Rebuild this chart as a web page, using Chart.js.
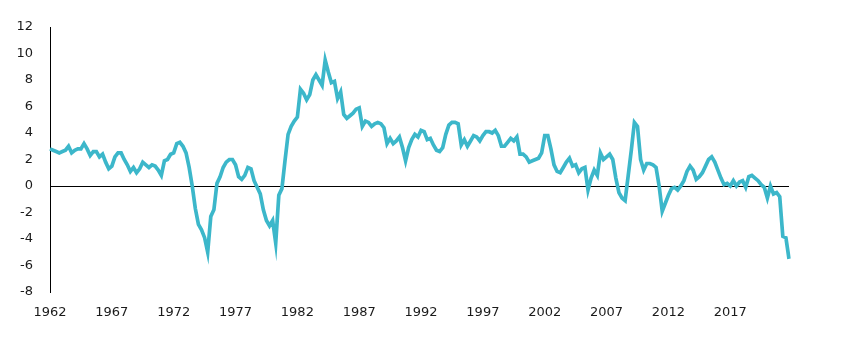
<!DOCTYPE html>
<html>
<head>
<meta charset="utf-8">
<script src="https://cdn.jsdelivr.net/npm/chart.js@4"></script>
<style>
    html, body { margin: 0; padding: 0; background: #fff; }
    #wrap { width: 850px; height: 360px; }
</style>
</head>
<body>
<div id="wrap"><canvas id="chart" width="850" height="360"></canvas></div>
<script>
// quarterly series, 1962Q1 .. 2021Q4
const startYear = 1962;
const tickYears = ['1962', '1967', '1972', '1977', '1982', '1987', '1992', '1997', '2002', '2007', '2012', '2017'];
const values = [
    2.8, 2.7, 2.6, 2.5, 2.6, 2.7, 3.0, 2.5, 2.7, 2.8,
    2.8, 3.2, 2.8, 2.3, 2.6, 2.6, 2.2, 2.4, 1.8, 1.3,
    1.5, 2.2, 2.5, 2.5, 2.0, 1.6, 1.1, 1.4, 1.0, 1.3,
    1.8, 1.6, 1.4, 1.6, 1.5, 1.2, 0.8, 1.9, 2.0, 2.4,
    2.5, 3.2, 3.3, 3.0, 2.5, 1.4, 0.0, -1.7, -2.9, -3.3,
    -3.9, -5.0, -2.3, -1.8, 0.2, 0.7, 1.4, 1.8, 2.0, 2.0,
    1.6, 0.7, 0.5, 0.8, 1.4, 1.3, 0.4, -0.1, -0.6, -1.8,
    -2.6, -3.0, -2.6, -4.3, -0.7, -0.2, 1.9, 3.9, 4.5, 4.9,
    5.2, 7.3, 7.0, 6.5, 6.9, 8.0, 8.4, 8.0, 7.6, 9.5,
    8.6, 7.8, 7.9, 6.6, 7.1, 5.4, 5.1, 5.3, 5.5, 5.8,
    5.9, 4.5, 4.9, 4.8, 4.5, 4.7, 4.8, 4.7, 4.4, 3.2,
    3.6, 3.2, 3.4, 3.7, 2.9, 1.9, 2.9, 3.5, 3.9, 3.7,
    4.2, 4.1, 3.5, 3.6, 3.1, 2.7, 2.6, 2.9, 3.9, 4.6,
    4.8, 4.8, 4.7, 3.1, 3.5, 3.0, 3.4, 3.8, 3.7, 3.4,
    3.8, 4.1, 4.1, 4.0, 4.2, 3.8, 3.0, 3.0, 3.3, 3.6,
    3.4, 3.7, 2.4, 2.4, 2.2, 1.8, 1.9, 2.0, 2.1, 2.5,
    3.8, 3.8, 2.8, 1.6, 1.1, 1.0, 1.4, 1.8, 2.1, 1.5,
    1.6, 1.0, 1.3, 1.4, -0.3, 0.6, 1.2, 0.8, 2.5, 2.0,
    2.2, 2.4, 2.0, 0.6, -0.5, -0.9, -1.1, 0.8, 2.7, 4.8,
    4.5, 2.0, 1.2, 1.7, 1.7, 1.6, 1.4, 0.0, -1.9, -1.3,
    -0.7, -0.2, -0.1, -0.3, 0.0, 0.4, 1.1, 1.5, 1.2, 0.5,
    0.7, 1.0, 1.5, 2.0, 2.2, 1.8, 1.2, 0.6, 0.1, 0.2,
    0.0, 0.4, 0.0, 0.3, 0.4, -0.1, 0.7, 0.8, 0.6, 0.4,
    0.1, -0.1, -0.9, 0.0, -0.6, -0.5, -0.8, -3.8, -3.9, -5.5
];

const quarters = values.map((v, i) => (startYear + Math.floor(i / 4)) + 'Q' + (i % 4 + 1));

const labelFont = { family: '"DejaVu Sans", Verdana, sans-serif', size: 13 };

new Chart(document.getElementById('chart'), {
    type: 'line',
    data: {
        labels: quarters,
        datasets: [{
            data: values,
            borderColor: '#3cb7ca',
            borderWidth: 3.7,
            pointRadius: 0,
            tension: 0,
            fill: false
        }]
    },
    options: {
        responsive: false,
        animation: false,
        layout: { padding: { top: 27, right: 61, left: 0, bottom: 0 } },
        plugins: { legend: { display: false }, tooltip: { enabled: false } },
        scales: {
            x: {
                offset: false,
                grid: { display: false, drawTicks: false },
                border: { display: false },
                ticks: {
                    autoSkip: false,
                    maxRotation: 0,
                    padding: 13,
                    color: '#1a1a1a',
                    font: labelFont,
                    callback: function(val, idx) {
                        const quarter = quarters[idx];
                        const year = quarter.slice(0, 4);
                        return quarter.endsWith('Q1') && tickYears.includes(year) ? year : null;
                    }
                },
                afterFit: function(scale) { scale.height = 68; }
            },
            y: {
                min: -8,
                max: 12,
                ticks: { stepSize: 2, padding: 17, color: '#1a1a1a', font: labelFont },
                grid: {
                    drawTicks: false,
                    color: ctx => ctx.tick && ctx.tick.value === 0 ? '#000' : 'rgba(0,0,0,0)',
                    lineWidth: 1
                },
                border: { display: true, color: '#000', width: 1 },
                afterFit: function(scale) { scale.width = 50; }
            }
        }
    }
});
</script>
</body>
</html>
